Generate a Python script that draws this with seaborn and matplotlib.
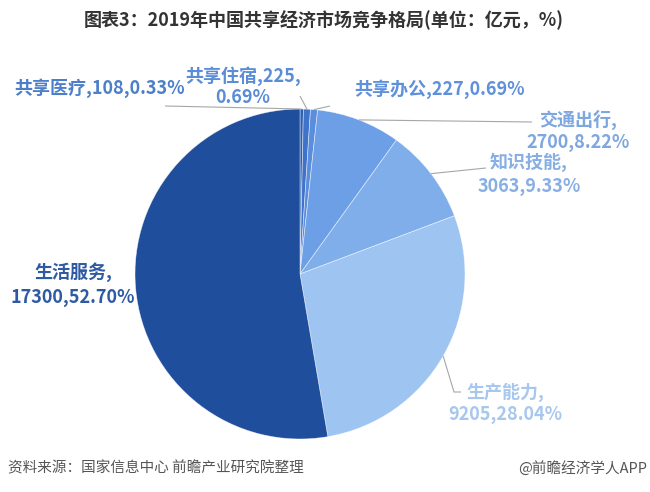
import numpy as np
import matplotlib
matplotlib.use("Agg")
import matplotlib.pyplot as plt
import seaborn as sns

categories = ["共享医疗", "共享住宿", "共享办公", "交通出行", "知识技能", "生产能力", "生活服务"]
values = [108, 225, 227, 2700, 3063, 9205, 17300]
percents = ["0.33%", "0.69%", "0.69%", "8.22%", "9.33%", "28.04%", "52.70%"]

slice_colors = ["#2C5EB2", "#3E73C9", "#5A8EDC", "#6C9FE6", "#80AEEA", "#9EC4F2", "#1F4E9C"]
label_colors = ["#4C7FC9", "#5B8CD6", "#5E90DB", "#7EA6DF", "#88AFE4", "#A8C7EE", "#2E5AA3"]

sns.set_theme(style="white")
plt.rcParams["font.family"] = ["Noto Sans CJK SC", "DejaVu Sans"]

W, H = 650, 492
fig = plt.figure(figsize=(W / 100, H / 100), dpi=100)
ax = fig.add_axes([0, 0, 1, 1])
CX, CY, R = 300, 274, 165
ax.set_aspect("equal")
ax.axis("off")

def P(px, py):
    return ((px - CX) / R, (CY - py) / R)

wedges, _ = ax.pie(values, colors=slice_colors, startangle=90, counterclock=False,
                   radius=1.0, center=(0, 0),
                   wedgeprops=dict(edgecolor=(1, 1, 1, 0.6), linewidth=0.5))
ax.set_xlim(-CX / R, (W - CX) / R)
ax.set_ylim(-(H - CY) / R, CY / R)

texts = [
    f"{categories[0]},{values[0]},{percents[0]}",
    f"{categories[1]},{values[1]},\n{percents[1]}",
    f"{categories[2]},{values[2]},{percents[2]}",
    f"{categories[3]},\n{values[3]},{percents[3]}",
    f"{categories[4]},\n{values[4]},{percents[4]}",
    f"{categories[5]},\n{values[5]},{percents[5]}",
    f"{categories[6]},\n{values[6]},{percents[6]}",
]
layout = [
    ((14, 88), "left", [(165, 106)], 1.2),
    ((243, 87), "center", [(300, 96)], 1.15),
    ((354, 89), "left", [(330, 106)], 1.2),
    ((578, 131), "center", [(532, 122)], 1.2),
    ((529, 174), "center", [(486, 168)], 1.3),
    ((505, 403), "center", [(454, 392), (461, 392)], 1.2),
    ((73, 285), "center", [], 1.4),
]

for i, w in enumerate(wedges):
    mid = np.deg2rad((w.theta1 + w.theta2) / 2)
    ex, ey = np.cos(mid), np.sin(mid)
    (tx, ty), ha, path, ls = layout[i]
    if path:
        pts = [(ex, ey)] + [P(*p) for p in path]
        xs, ys = zip(*pts)
        ax.plot(xs, ys, color="#A6A6A6", lw=0.8, solid_capstyle="butt")
    x, y = P(tx, ty)
    ax.text(x, y, texts[i], ha=ha, va="center", fontsize=13, fontweight="bold",
            color=label_colors[i], linespacing=ls, multialignment="center")

fig.text(324 / W, 1 - 20 / H, "图表3：2019年中国共享经济市场竞争格局(单位：亿元，%)",
         ha="center", va="center", fontsize=13, fontweight="bold", color="#333333")
fig.text(8 / W, 1 - 468 / H, "资料来源：国家信息中心 前瞻产业研究院整理",
         ha="left", va="center", fontsize=10.5, color="#555555")
fig.text(647 / W, 1 - 468 / H, "@前瞻经济学人APP",
         ha="right", va="center", fontsize=10.5, color="#555555")

fig.savefig("out.png", dpi=100, facecolor="white")
